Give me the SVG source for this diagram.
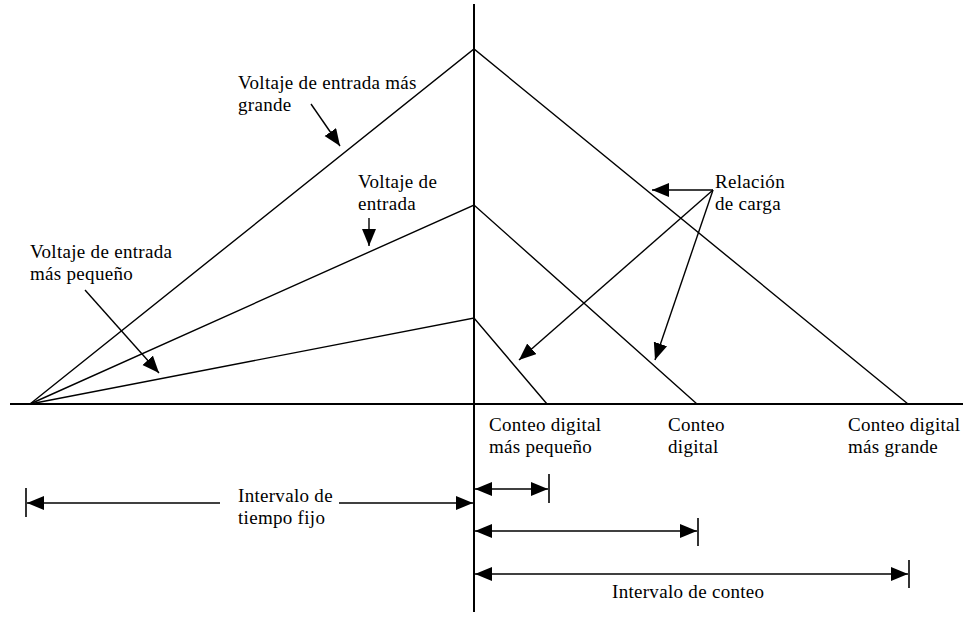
<svg xmlns="http://www.w3.org/2000/svg" width="968" height="617" viewBox="0 0 968 617">
  <style>
    .axis { stroke: #000; stroke-width: 2; fill: none; }
    .ramp { stroke: #000; stroke-width: 1.4; fill: none; }
    .lead { stroke: #000; stroke-width: 1.4; fill: none; marker-end: url(#head); }
    .span { stroke: #000; stroke-width: 1.6; fill: none; marker-start: url(#head); marker-end: url(#head); }
    .tick { stroke: #000; stroke-width: 1.6; }
    text { font-family: "Liberation Serif", "Times New Roman", serif; font-size: 19px; letter-spacing: 0.3px; fill: #000; }
  </style>
  <defs>
    <marker id="head" markerUnits="userSpaceOnUse" markerWidth="18" markerHeight="15" refX="17" refY="7" orient="auto-start-reverse">
      <path d="M0,0 L17,7 L0,14 z" fill="#000"/>
    </marker>
  </defs>
  <rect width="968" height="617" fill="#fff"/>

  <!-- axes -->
  <g id="axes">
    <line class="axis" x1="474" y1="4" x2="474" y2="612"/>
    <line class="axis" x1="10" y1="404" x2="963" y2="404"/>
  </g>

  <!-- integrator ramps: run-up to the switching instant, then run-down -->
  <g id="ramps">
    <polyline class="ramp" points="30,404 474,49 908,404"/>
    <polyline class="ramp" points="30,404 474,205 697,404"/>
    <polyline class="ramp" points="30,404 474,318 547,404"/>
  </g>

  <!-- labels -->
  <g id="label-large-input">
    <text x="238" y="89">Voltaje de entrada más</text>
    <text x="238" y="111">grande</text>
  </g>
  <g id="label-input">
    <text x="358" y="188">Voltaje de</text>
    <text x="358" y="210">entrada</text>
  </g>
  <g id="label-small-input">
    <text x="30" y="258">Voltaje de entrada</text>
    <text x="30" y="280">más pequeño</text>
  </g>
  <g id="label-slope">
    <text x="715" y="188">Relación</text>
    <text x="715" y="210">de carga</text>
  </g>
  <g id="label-count-small">
    <text x="489" y="431">Conteo digital</text>
    <text x="489" y="453">más pequeño</text>
  </g>
  <g id="label-count">
    <text x="668" y="431">Conteo</text>
    <text x="668" y="453">digital</text>
  </g>
  <g id="label-count-large">
    <text x="848" y="431">Conteo digital</text>
    <text x="848" y="453">más grande</text>
  </g>
  <g id="label-fixed-interval">
    <text x="238" y="502">Intervalo de</text>
    <text x="238" y="524">tiempo fijo</text>
  </g>
  <g id="label-count-interval">
    <text x="612" y="598">Intervalo de conteo</text>
  </g>

  <!-- connectors -->
  <g id="connectors">
    <line class="lead" x1="311" y1="104" x2="340" y2="146"/>
    <line class="lead" x1="369" y1="218" x2="369" y2="246"/>
    <line class="lead" x1="85" y1="290" x2="159" y2="373"/>
    <line class="lead" x1="713" y1="190" x2="652" y2="190"/>
    <line class="lead" x1="713" y1="190" x2="519" y2="360"/>
    <line class="lead" x1="713" y1="190" x2="655" y2="360"/>

    <!-- fixed integration interval -->
    <line class="tick" x1="26" y1="488" x2="26" y2="517"/>
    <line class="lead" x1="220" y1="503" x2="27" y2="503"/>
    <line class="lead" x1="339" y1="503" x2="473" y2="503"/>

    <!-- count intervals -->
    <line class="tick" x1="549" y1="474" x2="549" y2="503"/>
    <line class="span" x1="475" y1="489" x2="548" y2="489"/>
    <line class="tick" x1="698" y1="518" x2="698" y2="546"/>
    <line class="span" x1="475" y1="531" x2="697" y2="531"/>
    <line class="tick" x1="909" y1="560" x2="909" y2="588"/>
    <line class="span" x1="475" y1="574" x2="908" y2="574"/>
  </g>
</svg>
